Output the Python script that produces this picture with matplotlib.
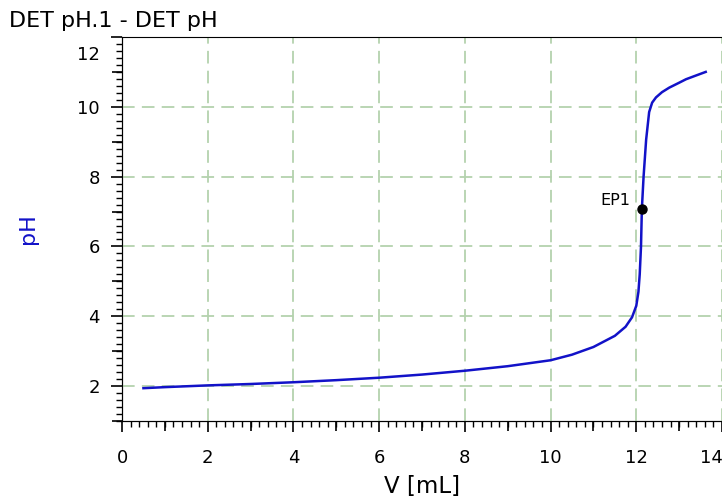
import matplotlib.pyplot as plt
import matplotlib.transforms as mtransforms
from matplotlib.ticker import MultipleLocator
import numpy as np

# titration curve
volume = [0.5, 1.0, 2.0, 3.0, 4.0, 5.0, 6.0, 7.0, 8.0, 9.0, 10.0, 10.5, 11.0,
          11.5, 11.75, 11.9, 12.0, 12.05, 12.08, 12.11, 12.13, 12.17, 12.23,
          12.3, 12.37, 12.46, 12.6, 12.77, 13.0, 13.16, 13.4, 13.62]
ph = [1.94, 1.97, 2.02, 2.06, 2.11, 2.17, 2.24, 2.33, 2.44, 2.57, 2.74, 2.9,
      3.12, 3.44, 3.7, 3.97, 4.3, 4.7, 5.2, 6.0, 7.07, 8.0, 9.06,
      9.85, 10.12, 10.27, 10.42, 10.55, 10.69, 10.79, 10.9, 11.0]
ep_volume = 12.13
ep_ph = 7.07
ep_label = 'EP1'

fig = plt.figure(figsize=(7.22, 5.0), dpi=100)
ax = fig.add_axes([0.169, 0.158, 0.831, 0.768])

grid_color = '#b4d2ae'
line_color = '#1212c8'

ax.plot(volume, ph, color=line_color, lw=1.8, zorder=3)
ax.plot([ep_volume], [ep_ph], 'o', color='black', ms=6.5, zorder=4)
ax.annotate(ep_label, (ep_volume, ep_ph), xytext=(-8, 6), textcoords='offset points',
            ha='right', va='center', fontsize=11.5)

ax.set_xlim(0, 14)
ax.set_ylim(1, 12)
ax.set_xticks(np.arange(0, 15, 2))
ax.set_yticks(np.arange(2, 13, 2))
ax.xaxis.set_minor_locator(MultipleLocator(0.2))
ax.yaxis.set_minor_locator(MultipleLocator(0.2))
ax.tick_params(which='major', length=8, width=1.2, labelsize=13, pad=12)
ax.tick_params(which='minor', length=4, width=1.0)
ax.tick_params(axis='y', pad=8)

# medium ticks at odd values
secx = ax.secondary_xaxis('bottom')
secx.set_xticks(np.arange(1, 14, 2))
secx.tick_params(length=7, width=1.2, labelbottom=False)
secy = ax.secondary_yaxis('left')
secy.set_yticks(np.arange(1, 12, 2))
secy.tick_params(length=7, width=1.2, labelleft=False)

ax.grid(True, which='major', color=grid_color, ls=(0, (7, 4)), lw=1.3)
ax.spines['right'].set_visible(False)

# keep end labels inside the plot frame
lbl = ax.yaxis.get_major_ticks()[-1].label1
lbl.set_transform(lbl.get_transform() + mtransforms.ScaledTranslation(0, -16 / 100, fig.dpi_scale_trans))
lbl = ax.xaxis.get_major_ticks()[-1].label1
lbl.set_transform(lbl.get_transform() + mtransforms.ScaledTranslation(-11 / 100, 0, fig.dpi_scale_trans))

ax.set_xlabel('V [mL]', fontsize=16.5, labelpad=6)
ax.set_ylabel('pH', fontsize=16, color=line_color)
ax.yaxis.set_label_coords(-0.14, 0.5)

fig.text(0.012, 0.958, 'DET pH.1 - DET pH', fontsize=16, ha='left', va='center')

plt.savefig('out.png', dpi=100)
